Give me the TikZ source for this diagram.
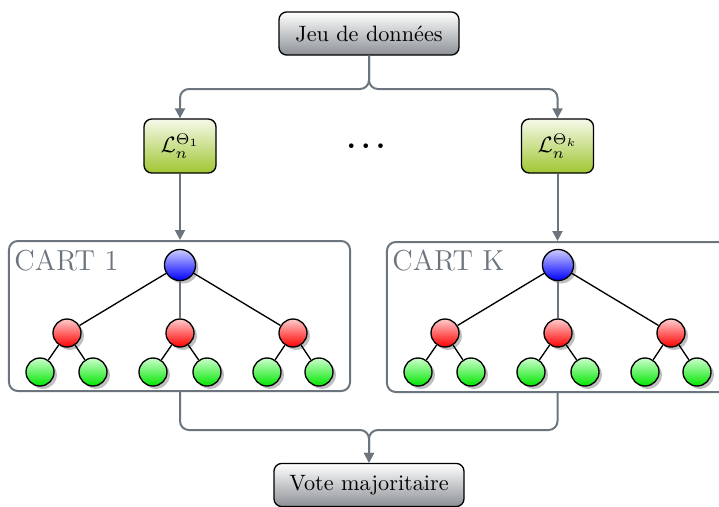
\documentclass[tikz,border=0pt]{standalone}
\usetikzlibrary{arrows.meta,shadows}
\definecolor{linkgray}{RGB}{108,117,125}
\definecolor{lbot}{RGB}{160,198,50}
\definecolor{gbot}{RGB}{140,145,150}
\begin{document}
\begin{tikzpicture}[x=0.45pt,y=-0.45pt,
  mainbox/.style={draw=black, line width=0.6pt, rounded corners=3.5pt, top color=white, bottom color=gbot, minimum height=19.4pt, inner sep=0pt},
  lbox/.style={draw=black, line width=0.6pt, rounded corners=3.5pt, top color=white!90!lbot, bottom color=lbot, minimum width=32.4pt, minimum height=24.3pt, inner sep=0pt},
  cartbox/.style={draw=linkgray, line width=0.9pt, rounded corners=4pt, minimum width=153.5pt, minimum height=67.5pt, inner sep=0pt},
  cartlabel/.style={text=linkgray, font=\fontsize{13}{15}\selectfont, anchor=base west, inner sep=0pt},
  link/.style={draw=linkgray, line width=0.9pt, rounded corners=4pt},
  arr/.style={link, -{Triangle[width=4.5pt,length=4.5pt]}},
  ball/.style={circle, draw=black, line width=0.6pt, inner sep=0pt, drop shadow={opacity=0.5, shadow xshift=1.3pt, shadow yshift=-1.3pt}},
  rootn/.style={ball, minimum size=14pt, top color=blue!20, bottom color=blue},
  midn/.style={ball, minimum size=12.6pt, top color=red!20, bottom color=red},
  leafn/.style={ball, minimum size=12.6pt, top color=green!20, bottom color=green!90!black},
  tedge/.style={draw=black, line width=0.6pt}
]
\useasboundingbox (0,0) rectangle (719,506);

% top and bottom boxes
\node[mainbox, minimum width=81pt] (data) at (369,33.5) {Jeu de donn\'ees};
\node[mainbox, minimum width=85.5pt] (vote) at (369,485) {Vote majoritaire};

% L boxes
\node[lbox] (L1) at (180,146) {$\mathcal{L}_n^{\Theta_1}$};
\node[lbox] (Lk) at (557.5,146) {$\mathcal{L}_n^{\Theta_k}$};
\node[inner sep=0pt] (dots) at (366,146) {\Large\bfseries.\kern2.1pt.\kern2.1pt.};

% CART boxes
\node[cartbox] (cart1) at (179.5,316) {};
\node[cartbox] (cartk) at (557.5,317) {};
\node[cartlabel] (lab1) at (14,270) {CART 1};
\node[cartlabel] (labk) at (392,270) {CART K};

% trees
\foreach \dx/\t in {0/a,378/b} {
  \node[rootn] (r\t) at (180+\dx,265) {};
  \node[midn] (m\t1) at (67+\dx,333) {};
  \node[midn] (m\t2) at (180+\dx,333) {};
  \node[midn] (m\t3) at (293+\dx,333) {};
  \node[leafn] (l\t1) at (40+\dx,372) {};
  \node[leafn] (l\t2) at (93+\dx,372) {};
  \node[leafn] (l\t3) at (153+\dx,372) {};
  \node[leafn] (l\t4) at (207+\dx,372) {};
  \node[leafn] (l\t5) at (267+\dx,372) {};
  \node[leafn] (l\t6) at (319+\dx,372) {};
  \draw[tedge] (r\t) -- (m\t1);
  \draw[tedge] (r\t) -- (m\t3);
  \draw[link] (r\t) -- (m\t2);
  \draw[tedge] (m\t1) -- (l\t1);
  \draw[tedge] (m\t1) -- (l\t2);
  \draw[tedge] (m\t2) -- (l\t3);
  \draw[tedge] (m\t2) -- (l\t4);
  \draw[tedge] (m\t3) -- (l\t5);
  \draw[tedge] (m\t3) -- (l\t6);
}

% connectors
\coordinate (split) at (369,89);
\coordinate (join) at (369,430);
\draw[arr] (data.south) -- (split) -| (L1.north);
\draw[arr] (data.south) -- (split) -| (Lk.north);
\draw[arr] (L1.south) -- (L1.south |- cart1.north);
\draw[arr] (Lk.south) -- (Lk.south |- cartk.north);
\draw[arr] (cart1.south -| L1.south) |- (join) -- (vote.north);
\draw[arr] (cartk.south -| Lk.south) |- (join) -- (vote.north);
\end{tikzpicture}
\end{document}
